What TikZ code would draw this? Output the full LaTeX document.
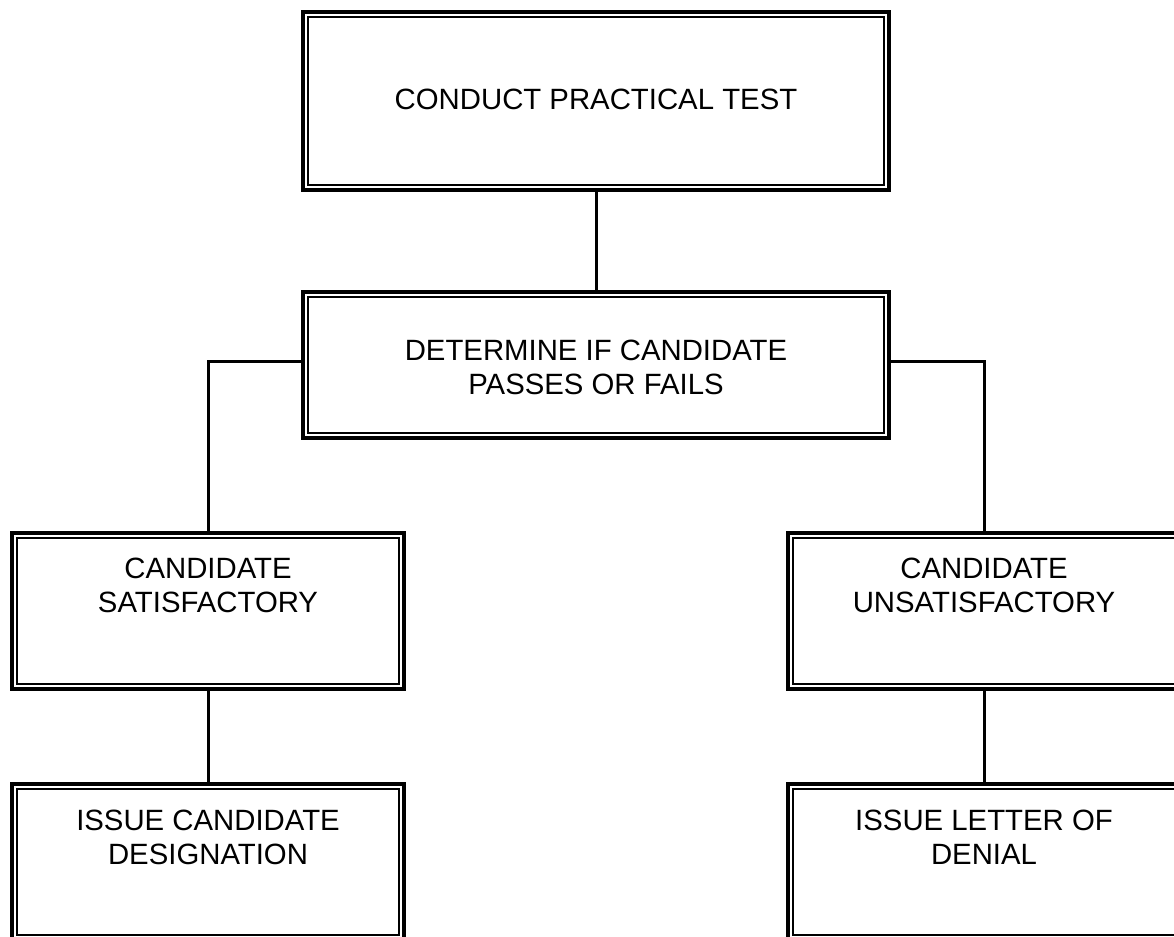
\documentclass[tikz,border=0pt]{standalone}
\usepackage{fontspec}
\setmainfont{Liberation Sans}
\usetikzlibrary{positioning}

\tikzset{
  dblbox/.style={rectangle,draw,line width=3.4pt,inner sep=0pt,
    path picture={\draw[line width=1.1pt]
      ([xshift=3.6pt,yshift=-3.6pt]path picture bounding box.north west) rectangle
      ([xshift=-3.6pt,yshift=3.6pt]path picture bounding box.south east);}},
  wide/.style={dblbox,minimum width=439.5pt},
  side/.style={dblbox,minimum width=294pt,minimum height=117pt},
  txt/.style={align=center,inner sep=0pt,font=\fontsize{22}{25.5}\selectfont},
  link/.style={line width=2.25pt}
}

\begin{document}
\begin{tikzpicture}[x=0.75pt,y=-0.75pt]
        \useasboundingbox (0,0) rectangle (1174,937);

        % boxes
        \node[wide,minimum height=133.5pt] (test) at (596,101) {};
        \node[wide,minimum height=109.5pt] (pf)   at (596,365) {};
        \node[side] (sat)   at (208,611) {};
        \node[side] (unsat) at (984,611) {};
        \node[side] (desig) at (208,862) {};
        \node[side] (deny)  at (984,862) {};

        % texts
        \begin{scope}[every node/.style={txt}]
          \node (t1) at (596,99.5) {CONDUCT PRACTICAL TEST};
          \node (t2) at (596,367)  {DETERMINE IF CANDIDATE\\PASSES OR FAILS};
          \node (t3) at (208,585)  {CANDIDATE\\SATISFACTORY};
          \node (t4) at (984,585)  {CANDIDATE\\UNSATISFACTORY};
          \node (t5) at (208,837)  {ISSUE CANDIDATE\\DESIGNATION};
          \node (t6) at (984,837)  {ISSUE LETTER OF\\DENIAL};
        \end{scope}

        % connectors
        \begin{scope}[every path/.style={link}]
          \draw (test) -- (pf);
          \draw ([yshift=2.25pt]pf.west) -| (sat.north);
          \draw ([yshift=2.25pt]pf.east) -| (unsat.north);
          \draw (sat) -- (desig);
          \draw (unsat) -- (deny);
        \end{scope}

      \end{tikzpicture}
\end{document}
